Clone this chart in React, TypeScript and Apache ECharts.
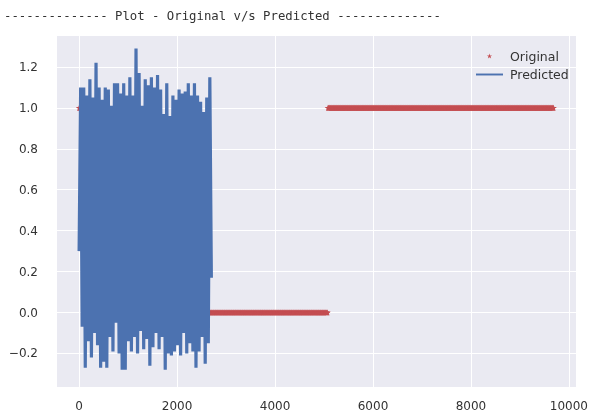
import React, { useEffect, useRef } from 'react';
import * as echarts from 'echarts';

// ---- data ----
const titleText = '-------------- Plot - Original v/s Predicted --------------';
const seriesNames = ['Original', 'Predicted'];

// Original labels as runs: [startIndex, endIndex, value]
const originalRuns: [number, number, number][] = [
  [0, 50, 1],
  [200, 240, 0],
  [640, 690, 0],
  [2600, 5076, 0],
  [5080, 9692, 1],
];
const originalStep = 8;

// Predicted: oscillating signal over indices 0..predictedLength, peaks and troughs
const predictedLength = 2700;
const predictedFirst = 0.3;
const predictedLast = 0.17;
const predictedHigh = [1.10, 1.10, 1.06, 1.14, 1.05, 1.22, 1.10, 1.04, 1.10, 1.09, 1.01, 1.12, 1.12, 1.07, 1.12, 1.06, 1.15, 1.06, 1.29, 1.17, 1.01, 1.14, 1.11, 1.15, 1.10, 1.16, 1.09, 0.97, 1.12, 0.96, 1.06, 1.04, 1.09, 1.07, 1.08, 1.12, 1.06, 1.12, 1.06, 1.03, 0.98, 1.05, 1.15];
const predictedLow = [-0.07, -0.27, -0.14, -0.22, -0.10, -0.16, -0.27, -0.24, -0.27, -0.12, -0.19, -0.05, -0.20, -0.28, -0.28, -0.14, -0.19, -0.12, -0.20, -0.09, -0.18, -0.13, -0.26, -0.17, -0.10, -0.18, -0.12, -0.28, -0.20, -0.21, -0.19, -0.16, -0.21, -0.10, -0.20, -0.15, -0.19, -0.27, -0.19, -0.12, -0.25, -0.15];

// axis extents
const xMin = -472;
const xMax = 10148;
const yMin = -0.364;
const yMax = 1.356;

const STAR = 'path://M1,0L1.2245,0.691L1.951,0.691L1.363,1.118L1.588,1.809L1,1.382L0.412,1.809L0.637,1.118L0.049,0.691L0.7755,0.691Z';
const LINE_ICON = 'path://M0,0H28V2H0Z';
const RED = '#C44E52';
const BLUE = '#4C72B0';
const TXT = '#333333';

export default function App() {
  const ref = useRef<HTMLDivElement>(null);
  useEffect(() => {
    if (!ref.current) return;
    const chart = echarts.init(ref.current, null, { renderer: 'svg' });

    const originalData: number[][] = [];
    originalRuns.forEach(([s, e, v]) => {
      for (let x = s; x <= e; x += originalStep) originalData.push([x, v]);
    });

    const seq: number[] = [predictedFirst];
    for (let i = 0; i < predictedHigh.length; i++) {
      seq.push(predictedHigh[i]);
      if (i < predictedLow.length) seq.push(predictedLow[i]);
    }
    seq.push(predictedLast);
    const predictedData = seq.map((v, i) => [(i * predictedLength) / (seq.length - 1), v]);

    chart.setOption({
      animation: false,
      title: {
        text: titleText,
        left: 4,
        top: 10,
        padding: 0,
        textStyle: {
          fontFamily: 'DejaVu Sans Mono',
          fontSize: 12.3,
          fontWeight: 'normal',
          color: TXT,
        },
      },
      grid: {
        left: 56,
        right: 11,
        top: 35,
        bottom: 30,
        show: true,
        backgroundColor: '#EAEAF2',
        borderWidth: 0,
      },
      legend: {
        orient: 'vertical',
        left: 471,
        top: 44,
        itemWidth: 27,
        itemHeight: 5,
        itemGap: 4.5,
        selectedMode: false,
        symbolKeepAspect: true,
        textStyle: {
          fontFamily: 'DejaVu Sans',
          fontSize: 12.5,
          color: TXT,
          lineHeight: 14,
          padding: [0, 0, 0, 2],
        },
        data: [
          { name: seriesNames[0], icon: STAR, symbolKeepAspect: true, itemStyle: { color: RED } },
          { name: seriesNames[1], icon: LINE_ICON, symbolKeepAspect: true, itemStyle: { color: BLUE } },
        ],
      },
      xAxis: {
        type: 'value',
        min: xMin,
        max: xMax,
        splitNumber: 5,
        axisLine: { show: false },
        axisTick: { show: false },
        axisLabel: {
          color: TXT,
          fontSize: 12,
          fontFamily: 'DejaVu Sans',
          margin: 13,
          showMinLabel: false,
          showMaxLabel: false,
          formatter: (v: number) => String(Math.round(v)),
        },
        splitLine: { show: true, lineStyle: { color: '#FFFFFF', width: 1 } },
      },
      yAxis: {
        type: 'value',
        min: yMin,
        max: yMax,
        splitNumber: 8,
        axisLine: { show: false },
        axisTick: { show: false },
        axisLabel: {
          color: TXT,
          fontSize: 12,
          fontFamily: 'DejaVu Sans',
          margin: 18,
          showMinLabel: false,
          showMaxLabel: false,
          formatter: (v: number) => (Math.abs(v) < 1e-9 ? '0.0' : v.toFixed(1).replace('-', '\u2212')),
        },
        splitLine: { show: true, lineStyle: { color: '#FFFFFF', width: 1 } },
      },
      series: [
        {
          type: 'scatter',
          name: seriesNames[0],
          data: originalData,
          symbol: STAR,
          symbolSize: [6.5, 6.2],
          itemStyle: { color: RED, opacity: 1 },
          silent: true,
          z: 2,
        },
        {
          type: 'line',
          name: seriesNames[1],
          data: predictedData,
          symbol: 'none',
          showSymbol: false,
          lineStyle: { color: BLUE, width: 3.2, join: 'bevel' },
          itemStyle: { color: BLUE },
          silent: true,
          z: 3,
        },
      ],
    });
    return () => chart.dispose();
  }, []);
  return <div ref={ref} style={{ position: 'fixed', left: 0, top: 0, width: 591, height: 417 }} />;
}
